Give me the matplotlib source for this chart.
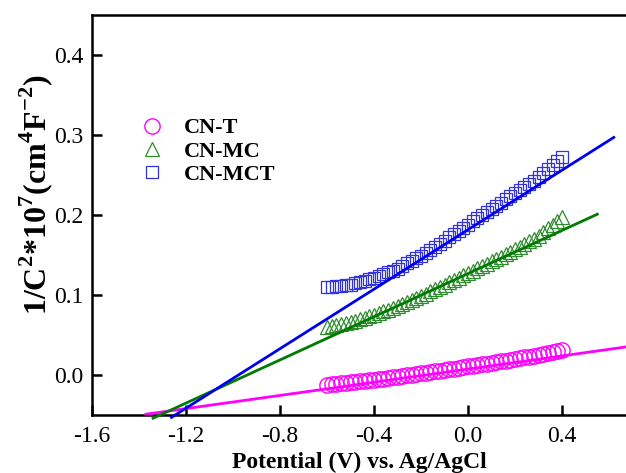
import numpy as np
from matplotlib import pyplot as plt

plt.rcParams['font.family'] = ['Liberation Serif', 'DejaVu Serif']
plt.rcParams['mathtext.fontset'] = 'custom'
plt.rcParams['mathtext.rm'] = 'Liberation Serif:bold'
plt.rcParams['mathtext.bf'] = 'Liberation Serif:bold'

potential = [-0.60, -0.58, -0.56, -0.54, -0.52, -0.50, -0.48, -0.46, -0.44, -0.42,
             -0.40, -0.38, -0.36, -0.34, -0.32, -0.30, -0.28, -0.26, -0.24, -0.22,
             -0.20, -0.18, -0.16, -0.14, -0.12, -0.10, -0.08, -0.06, -0.04, -0.02,
             0.00, 0.02, 0.04, 0.06, 0.08, 0.10, 0.12, 0.14, 0.16, 0.18,
             0.20, 0.22, 0.24, 0.26, 0.28, 0.30, 0.32, 0.34, 0.36, 0.38, 0.40]

cn_t = [-0.0120, -0.0114, -0.0108, -0.0102, -0.0096, -0.0090, -0.0084, -0.0078, -0.0072, -0.0066,
        -0.0060, -0.0052, -0.0044, -0.0036, -0.0028, -0.0020, -0.0012, -0.0004, 0.0004, 0.0012,
        0.0020, 0.0028, 0.0036, 0.0044, 0.0052, 0.0060, 0.0070, 0.0080, 0.0090, 0.0100,
        0.0110, 0.0118, 0.0126, 0.0134, 0.0142, 0.0150, 0.0160, 0.0170, 0.0180, 0.0190,
        0.0200, 0.0210, 0.0220, 0.0230, 0.0240, 0.0250, 0.0262, 0.0274, 0.0286, 0.0298, 0.0310]

cn_mc = [0.0600, 0.0612, 0.0624, 0.0636, 0.0648, 0.0660, 0.0678, 0.0696, 0.0714, 0.0732,
         0.0750, 0.0772, 0.0794, 0.0816, 0.0838, 0.0860, 0.0886, 0.0912, 0.0938, 0.0964,
         0.0990, 0.1018, 0.1046, 0.1074, 0.1102, 0.1130, 0.1159, 0.1188, 0.1217, 0.1246,
         0.1275, 0.1304, 0.1333, 0.1362, 0.1391, 0.1420, 0.1450, 0.1480, 0.1510, 0.1540,
         0.1570, 0.1604, 0.1638, 0.1672, 0.1706, 0.1740, 0.1786, 0.1832, 0.1878, 0.1924, 0.1970]

cn_mct = [0.1100, 0.1106, 0.1112, 0.1118, 0.1124, 0.1130, 0.1146, 0.1162, 0.1178, 0.1194,
          0.1210, 0.1234, 0.1258, 0.1282, 0.1306, 0.1330, 0.1362, 0.1394, 0.1426, 0.1458,
          0.1490, 0.1528, 0.1566, 0.1604, 0.1642, 0.1680, 0.1720, 0.1760, 0.1800, 0.1840,
          0.1880, 0.1920, 0.1960, 0.2000, 0.2040, 0.2080, 0.2118, 0.2156, 0.2194, 0.2232,
          0.2270, 0.2310, 0.2350, 0.2390, 0.2430, 0.2470, 0.2520, 0.2570, 0.2620, 0.2670, 0.2720]

# linear fits (end points)
t_fit_x = [-1.37, 0.67]
t_fit_y = [-0.049, 0.035]
mc_fit_x = [-1.34, 0.55]
mc_fit_y = [-0.054, 0.201]
mct_fit_x = [-1.262, 0.62]
mct_fit_y = [-0.053, 0.297]

fig = plt.figure(figsize=(6.26, 4.73), dpi=100)
ax = fig.add_axes([92 / 626, 58 / 473, 534 / 626, 400 / 473])

ax.plot(potential, cn_t, 'o', ms=11, mfc='none', mec='#FF00FF', mew=1.0, label='CN-T')
ax.plot(potential, cn_mc, '^', ms=10, mfc='none', mec='#2E8B2E', mew=0.9, label='CN-MC')
ax.plot(potential, cn_mct, 's', ms=8.5, mfc='none', mec='#3333DD', mew=0.9, label='CN-MCT')

ax.plot(t_fit_x, t_fit_y, '-', color='#FF00FF', lw=2, clip_on=False, zorder=3)
ax.plot(mc_fit_x, mc_fit_y, '-', color='#007A00', lw=2, clip_on=False, zorder=3)
ax.plot(mct_fit_x, mct_fit_y, '-', color='#0000EE', lw=2, clip_on=False, zorder=3)

ax.set_xlim(-1.6, 0.672)
ax.set_ylim(-0.05, 0.45)
ax.set_xticks([-1.6, -1.2, -0.8, -0.4, 0.0, 0.4])
ax.set_yticks([0.0, 0.1, 0.2, 0.3, 0.4])
ax.xaxis.set_major_formatter(plt.FormatStrFormatter('%.1f'))
ax.yaxis.set_major_formatter(plt.FormatStrFormatter('%.1f'))
ax.tick_params(direction='in', length=7, width=1.8, labelsize=17)
ax.tick_params(axis='x', pad=8)
ax.tick_params(axis='y', pad=6)
for side in ['left', 'bottom', 'top']:
    ax.spines[side].set_linewidth(1.8)
ax.spines['right'].set_visible(False)

ax.set_xlabel('Potential (V) vs. Ag/AgCl', fontsize=17, fontweight='bold')
ax.xaxis.set_label_coords(0.5, -0.093)
ax.set_ylabel(r'1/C$^{2}$*10$^{7}$(cm$^{4}$F$^{-2}$)', fontsize=23, fontweight='bold')
ax.yaxis.set_label_coords(-0.07, 0.55)

leg = ax.legend(loc='upper left', bbox_to_anchor=(0.054, 0.765), frameon=False,
                prop={'weight': 'bold', 'size': 16}, handletextpad=0.45, labelspacing=0.12,
                borderaxespad=0)

fig.savefig('out.png', dpi=100)
